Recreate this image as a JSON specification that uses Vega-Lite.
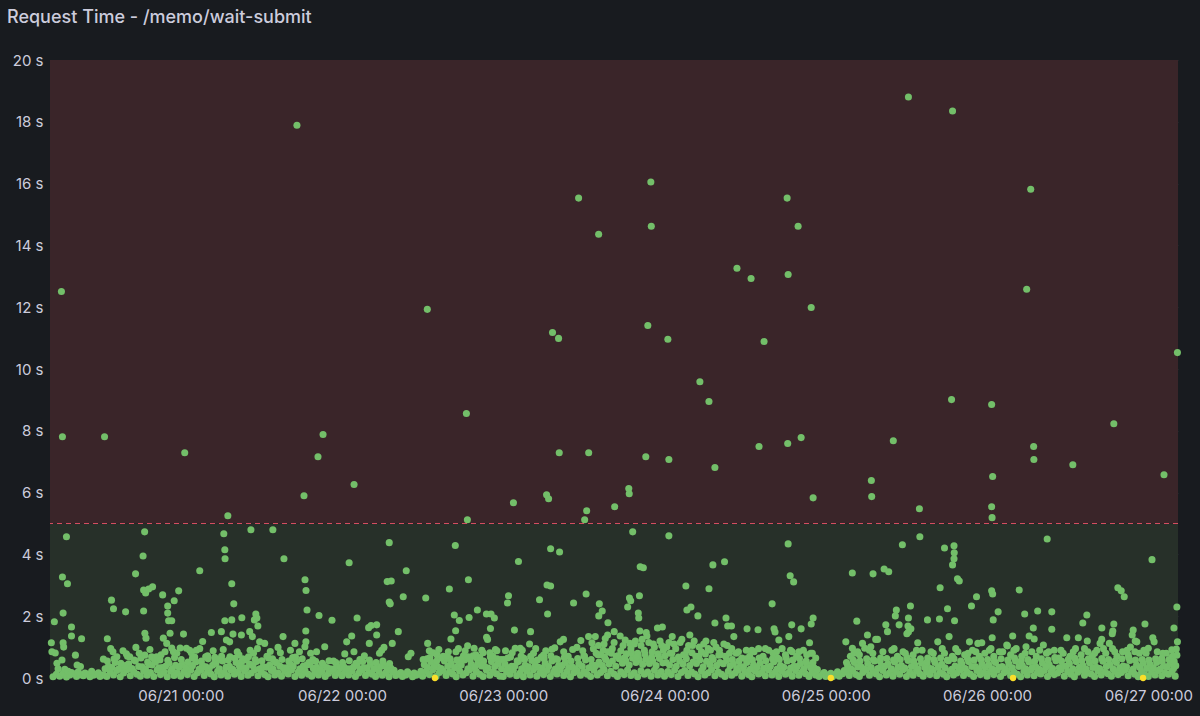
{
"$schema": "https://vega.github.io/schema/vega-lite/v6.json",
"width": 1128, "height": 618,
"autosize": {"type": "none"},
"padding": {"left": 50, "top": 60, "right": 22, "bottom": 38},
"background": "#181b1f",
"title": {"text": "Request Time - /memo/wait-submit", "anchor": "start", "frame": "group", "dx": -43, "offset": 12, "baseline": "alphabetic", "font": "Inter", "fontSize": 18, "fontWeight": 500, "color": "#ccccdc"},
"config": {"view": {"stroke": null},
 "axis": {"grid": true, "gridColor": "#ccccdc", "gridOpacity": 0.1, "domain": false, "ticks": false, "labelFont": "Inter", "labelFontSize": 15, "labelColor": "#ccccdc", "title": null, "zindex": 1}},
"layer": [
 {"data": {"values": [{"lo": 0, "hi": 5, "zone": "ok"}, {"lo": 5, "hi": 20, "zone": "alert"}]},
  "mark": {"type": "rect"},
  "encoding": {"y": {"field": "lo", "type": "quantitative", "scale": {"domain": [0, 20]}, "axis": {"values": [0,2,4,6,8,10,12,14,16,18,20], "labelExpr": "datum.value + ' s'", "labelPadding": 7}},
   "y2": {"field": "hi"},
   "color": {"field": "zone", "type": "nominal", "scale": {"domain": ["ok", "alert"], "range": ["#273029", "#3a2529"]}, "legend": null}}},
 {"data": {"values": [{"v": 5}]},
  "mark": {"type": "rule", "color": "#d44d60", "strokeWidth": 1, "strokeDash": [5, 4], "opacity": 1},
  "encoding": {"y": {"field": "v", "type": "quantitative"}}},
 {"data": {"format": {"parse": {"t": "utc:'%m/%d %H:%M'"}}, "values": [
{"t":"06/20 05:00","v":0.04},{"t":"06/20 05:30","v":0.12},{"t":"06/20 06:00","v":0.06},{"t":"06/20 06:30","v":0.15},{"t":"06/20 07:00","v":0.03},{"t":"06/20 07:30","v":0.1},{"t":"06/20 08:00","v":0.14},{"t":"06/20 08:30","v":0.05},{"t":"06/20 09:00","v":0.11},{"t":"06/20 09:30","v":0.07},{"t":"06/20 10:00","v":0.13},{"t":"06/20 10:30","v":0.04},{"t":"06/20 11:00","v":0.09},{"t":"06/20 11:30","v":0.12},{"t":"06/20 12:00","v":0.05},{"t":"06/20 12:30","v":0.1},{"t":"06/20 13:00","v":0.05},{"t":"06/20 13:30","v":0.2},{"t":"06/20 14:00","v":0.1},{"t":"06/20 14:30","v":0.24},{"t":"06/20 15:00","v":0.04},{"t":"06/20 15:30","v":0.16},{"t":"06/20 16:00","v":0.27},{"t":"06/20 16:30","v":0.07},{"t":"06/20 17:00","v":0.21},{"t":"06/20 17:30","v":0.12},{"t":"06/20 18:00","v":0.06},{"t":"06/20 18:30","v":0.23},{"t":"06/20 19:00","v":0.09},{"t":"06/20 19:30","v":0.18},{"t":"06/20 20:00","v":0.05},{"t":"06/20 20:30","v":0.26},{"t":"06/20 21:00","v":0.11},{"t":"06/20 21:30","v":0.19},{"t":"06/20 22:00","v":0.04},{"t":"06/20 22:30","v":0.22},{"t":"06/20 23:00","v":0.08},{"t":"06/20 23:30","v":0.17},
{"t":"06/20 05:45","v":0.3},{"t":"06/20 06:45","v":0.28},{"t":"06/20 07:15","v":0.22},{"t":"06/20 13:15","v":0.38},{"t":"06/20 14:15","v":0.5},{"t":"06/20 15:15","v":0.33},{"t":"06/20 16:15","v":0.46},{"t":"06/20 17:15","v":0.55},{"t":"06/20 18:15","v":0.36},{"t":"06/20 19:15","v":0.44},{"t":"06/20 20:15","v":0.52},{"t":"06/20 21:15","v":0.34},{"t":"06/20 22:15","v":0.48},{"t":"06/20 23:15","v":0.41},
{"t":"06/20 07:45","v":0.18},{"t":"06/20 08:45","v":0.2},{"t":"06/20 09:45","v":0.16},{"t":"06/20 10:45","v":0.22},{"t":"06/20 11:45","v":0.17},{"t":"06/20 12:45","v":0.3},{"t":"06/20 13:45","v":0.34},{"t":"06/20 14:45","v":0.29},{"t":"06/20 15:45","v":0.4},{"t":"06/20 16:45","v":0.31},{"t":"06/20 17:45","v":0.37},{"t":"06/20 18:45","v":0.28},{"t":"06/20 19:45","v":0.42},{"t":"06/20 20:45","v":0.33},{"t":"06/20 21:45","v":0.38},{"t":"06/20 22:45","v":0.3},{"t":"06/20 23:45","v":0.36},
{"t":"06/20 13:05","v":0.55},{"t":"06/20 14:05","v":0.62},{"t":"06/20 15:05","v":0.48},{"t":"06/20 16:05","v":0.7},{"t":"06/20 17:05","v":0.58},{"t":"06/20 18:05","v":0.65},{"t":"06/20 19:05","v":0.52},{"t":"06/20 20:05","v":0.6},{"t":"06/20 21:05","v":0.75},{"t":"06/20 22:05","v":0.57},{"t":"06/20 23:05","v":0.66},
{"t":"06/20 13:35","v":0.95},{"t":"06/20 15:25","v":0.88},{"t":"06/20 17:50","v":0.8},{"t":"06/20 19:25","v":0.92},{"t":"06/20 21:40","v":0.85},{"t":"06/20 23:25","v":0.8},
{"t":"06/20 04:45","v":1.14},{"t":"06/20 04:50","v":0.85},{"t":"06/20 05:20","v":0.81},{"t":"06/20 06:30","v":1.14},{"t":"06/20 06:35","v":1.0},{"t":"06/20 06:20","v":0.58},{"t":"06/20 05:35","v":0.48},{"t":"06/20 07:45","v":1.36},{"t":"06/20 07:45","v":1.65},{"t":"06/20 09:15","v":1.27},{"t":"06/20 08:20","v":0.74},{"t":"06/20 08:35","v":0.42},{"t":"06/20 09:05","v":0.37},{"t":"06/20 13:05","v":1.27},{"t":"06/20 12:30","v":0.61},{"t":"06/20 13:55","v":0.85},{"t":"06/20 14:30","v":0.69},{"t":"06/20 15:55","v":0.78},{"t":"06/20 16:25","v":0.69},{"t":"06/20 17:20","v":0.99},{"t":"06/20 18:40","v":1.45},{"t":"06/20 18:50","v":1.29},{"t":"06/20 18:40","v":0.74},{"t":"06/20 19:40","v":0.69},{"t":"06/20 20:25","v":0.69},{"t":"06/20 20:55","v":0.58},{"t":"06/20 21:25","v":1.29},{"t":"06/20 22:25","v":1.45},{"t":"06/20 21:55","v":1.12},{"t":"06/20 22:40","v":0.97},{"t":"06/20 22:55","v":0.85},{"t":"06/20 23:55","v":0.97},
{"t":"06/20 05:12","v":1.82},{"t":"06/20 06:24","v":3.27},{"t":"06/20 06:30","v":2.1},{"t":"06/20 07:00","v":4.57},{"t":"06/20 07:09","v":3.05},{"t":"06/20 13:42","v":2.52},{"t":"06/20 14:00","v":2.24},{"t":"06/20 15:48","v":2.14},{"t":"06/20 17:17","v":3.37},{"t":"06/20 18:24","v":3.95},{"t":"06/20 18:38","v":4.73},{"t":"06/20 18:29","v":2.85},{"t":"06/20 18:29","v":2.17},{"t":"06/20 18:47","v":2.75},{"t":"06/20 19:14","v":2.88},{"t":"06/20 19:49","v":2.95},{"t":"06/20 21:19","v":2.69},{"t":"06/20 22:04","v":2.33},{"t":"06/20 22:04","v":2.1},{"t":"06/20 22:12","v":1.85},{"t":"06/20 22:40","v":1.85},{"t":"06/20 23:02","v":2.5},{"t":"06/20 23:42","v":2.82},
{"t":"06/20 06:15","v":12.51},{"t":"06/20 06:24","v":7.81},{"t":"06/20 12:40","v":7.81},
{"t":"06/21 00:00","v":0.06},{"t":"06/21 00:30","v":0.21},{"t":"06/21 01:00","v":0.11},{"t":"06/21 01:30","v":0.25},{"t":"06/21 02:00","v":0.05},{"t":"06/21 02:30","v":0.17},{"t":"06/21 03:00","v":0.26},{"t":"06/21 03:30","v":0.08},{"t":"06/21 04:00","v":0.2},{"t":"06/21 04:30","v":0.13},{"t":"06/21 05:00","v":0.04},{"t":"06/21 05:30","v":0.22},{"t":"06/21 06:00","v":0.1},{"t":"06/21 06:30","v":0.18},{"t":"06/21 07:00","v":0.06},{"t":"06/21 07:30","v":0.25},{"t":"06/21 08:00","v":0.12},{"t":"06/21 08:30","v":0.19},{"t":"06/21 09:00","v":0.05},{"t":"06/21 09:30","v":0.23},{"t":"06/21 10:00","v":0.09},{"t":"06/21 10:30","v":0.16},{"t":"06/21 11:00","v":0.27},{"t":"06/21 11:30","v":0.07},{"t":"06/21 12:00","v":0.2},{"t":"06/21 12:30","v":0.11},{"t":"06/21 13:00","v":0.04},{"t":"06/21 13:30","v":0.24},{"t":"06/21 14:00","v":0.1},{"t":"06/21 14:30","v":0.17},{"t":"06/21 15:00","v":0.06},{"t":"06/21 15:30","v":0.22},{"t":"06/21 16:00","v":0.13},{"t":"06/21 16:30","v":0.26},{"t":"06/21 17:00","v":0.05},{"t":"06/21 17:30","v":0.19},{"t":"06/21 18:00","v":0.09},{"t":"06/21 18:30","v":0.23},{"t":"06/21 19:00","v":0.12},{"t":"06/21 19:30","v":0.06},{"t":"06/21 20:00","v":0.18},{"t":"06/21 20:30","v":0.1},{"t":"06/21 21:00","v":0.21},{"t":"06/21 21:30","v":0.05},{"t":"06/21 22:00","v":0.15},{"t":"06/21 22:30","v":0.24},{"t":"06/21 23:00","v":0.08},{"t":"06/21 23:30","v":0.17},
{"t":"06/21 00:15","v":0.44},{"t":"06/21 01:15","v":0.36},{"t":"06/21 02:15","v":0.52},{"t":"06/21 03:15","v":0.4},{"t":"06/21 04:15","v":0.31},{"t":"06/21 05:15","v":0.47},{"t":"06/21 06:15","v":0.55},{"t":"06/21 07:15","v":0.38},{"t":"06/21 08:15","v":0.5},{"t":"06/21 09:15","v":0.34},{"t":"06/21 10:15","v":0.45},{"t":"06/21 11:15","v":0.53},{"t":"06/21 12:15","v":0.37},{"t":"06/21 13:15","v":0.42},{"t":"06/21 14:15","v":0.49},{"t":"06/21 15:15","v":0.33},{"t":"06/21 16:15","v":0.46},{"t":"06/21 17:15","v":0.54},{"t":"06/21 18:15","v":0.39},{"t":"06/21 19:15","v":0.44},{"t":"06/21 20:15","v":0.35},{"t":"06/21 21:15","v":0.41},{"t":"06/21 22:15","v":0.3},{"t":"06/21 23:15","v":0.38},
{"t":"06/21 00:45","v":0.32},{"t":"06/21 01:45","v":0.4},{"t":"06/21 02:45","v":0.29},{"t":"06/21 03:45","v":0.36},{"t":"06/21 04:45","v":0.41},{"t":"06/21 05:45","v":0.3},{"t":"06/21 06:45","v":0.35},{"t":"06/21 07:45","v":0.28},{"t":"06/21 08:45","v":0.38},{"t":"06/21 09:45","v":0.32},{"t":"06/21 10:45","v":0.4},{"t":"06/21 11:45","v":0.3},{"t":"06/21 12:45","v":0.35},{"t":"06/21 13:45","v":0.29},{"t":"06/21 14:45","v":0.39},{"t":"06/21 15:45","v":0.33},{"t":"06/21 16:45","v":0.37},{"t":"06/21 17:45","v":0.3},{"t":"06/21 18:45","v":0.42},{"t":"06/21 19:45","v":0.31},{"t":"06/21 20:45","v":0.27},{"t":"06/21 21:45","v":0.34},{"t":"06/21 22:45","v":0.29},{"t":"06/21 23:45","v":0.33},
{"t":"06/21 00:05","v":0.6},{"t":"06/21 01:05","v":0.52},{"t":"06/21 02:05","v":0.68},{"t":"06/21 03:05","v":0.55},{"t":"06/21 04:05","v":0.62},{"t":"06/21 05:05","v":0.5},{"t":"06/21 06:05","v":0.7},{"t":"06/21 07:05","v":0.58},{"t":"06/21 08:05","v":0.64},{"t":"06/21 09:05","v":0.53},{"t":"06/21 10:05","v":0.69},{"t":"06/21 11:05","v":0.6},{"t":"06/21 12:05","v":0.56},{"t":"06/21 13:05","v":0.65},{"t":"06/21 14:05","v":0.52},{"t":"06/21 15:05","v":0.6},{"t":"06/21 16:05","v":0.55},{"t":"06/21 17:05","v":0.68},{"t":"06/21 18:05","v":0.62},{"t":"06/21 19:05","v":0.5},{"t":"06/21 20:05","v":0.54},{"t":"06/21 21:05","v":0.48},{"t":"06/21 22:05","v":0.56},{"t":"06/21 23:05","v":0.5},
{"t":"06/21 01:35","v":0.82},{"t":"06/21 02:50","v":0.95},{"t":"06/21 04:50","v":0.88},{"t":"06/21 06:20","v":0.92},{"t":"06/21 08:25","v":0.85},{"t":"06/21 10:50","v":0.8},{"t":"06/21 11:25","v":0.95},{"t":"06/21 13:20","v":0.86},{"t":"06/21 14:50","v":0.82},{"t":"06/21 16:20","v":0.9},{"t":"06/21 17:40","v":0.85},{"t":"06/21 19:20","v":0.8},
{"t":"06/21 00:25","v":1.42},{"t":"06/21 00:51","v":0.96},{"t":"06/21 01:20","v":0.9},{"t":"06/21 02:20","v":0.9},{"t":"06/21 03:16","v":1.18},{"t":"06/21 04:34","v":1.47},{"t":"06/21 06:03","v":1.5},{"t":"06/21 06:48","v":1.23},{"t":"06/21 07:17","v":1.17},{"t":"06/21 07:47","v":1.42},{"t":"06/21 09:02","v":1.39},{"t":"06/21 10:16","v":1.5},{"t":"06/21 10:40","v":1.34},{"t":"06/21 10:20","v":0.9},{"t":"06/21 11:45","v":1.17},{"t":"06/21 12:30","v":1.12},{"t":"06/21 14:29","v":0.99},{"t":"06/21 15:14","v":1.34},{"t":"06/21 17:00","v":1.12},{"t":"06/21 18:38","v":1.17},{"t":"06/21 18:29","v":1.01},{"t":"06/21 20:13","v":0.85},{"t":"06/21 21:26","v":1.01},{"t":"06/21 03:43","v":0.69},{"t":"06/21 05:04","v":0.67},{"t":"06/21 07:20","v":0.69},{"t":"06/21 09:14","v":0.62},{"t":"06/21 01:45","v":0.65},{"t":"06/21 04:00","v":0.72},{"t":"06/21 05:45","v":0.6},{"t":"06/21 08:40","v":0.75},{"t":"06/21 09:45","v":0.58},{"t":"06/21 12:50","v":0.7},{"t":"06/21 13:40","v":0.62},{"t":"06/21 16:40","v":0.66},{"t":"06/21 19:40","v":0.6},{"t":"06/21 22:45","v":0.55},
{"t":"06/21 02:50","v":3.47},{"t":"06/21 06:25","v":4.67},{"t":"06/21 06:34","v":4.15},{"t":"06/21 06:36","v":3.86},{"t":"06/21 06:34","v":1.85},{"t":"06/21 07:36","v":3.05},{"t":"06/21 07:36","v":1.88},{"t":"06/21 07:54","v":2.4},{"t":"06/21 09:06","v":1.95},{"t":"06/21 10:27","v":4.8},{"t":"06/21 10:58","v":1.88},{"t":"06/21 11:11","v":2.07},{"t":"06/21 11:20","v":1.94},{"t":"06/21 11:29","v":1.68},{"t":"06/21 13:43","v":4.8},{"t":"06/21 15:22","v":3.86},{"t":"06/21 18:30","v":3.18},{"t":"06/21 18:39","v":2.83},{"t":"06/21 18:48","v":2.2},{"t":"06/21 18:37","v":1.52},{"t":"06/21 20:35","v":2.02},{"t":"06/21 22:31","v":1.87},
{"t":"06/21 00:36","v":7.29},{"t":"06/21 07:01","v":5.25},{"t":"06/21 17:18","v":17.89},{"t":"06/21 18:21","v":5.9},{"t":"06/21 20:26","v":7.16},{"t":"06/21 21:11","v":7.88},
{"t":"06/22 00:00","v":0.07},{"t":"06/22 00:30","v":0.19},{"t":"06/22 01:00","v":0.1},{"t":"06/22 01:30","v":0.23},{"t":"06/22 02:00","v":0.05},{"t":"06/22 02:30","v":0.16},{"t":"06/22 03:00","v":0.25},{"t":"06/22 03:30","v":0.08},{"t":"06/22 04:00","v":0.18},{"t":"06/22 04:30","v":0.12},{"t":"06/22 05:00","v":0.05},{"t":"06/22 05:30","v":0.21},{"t":"06/22 06:00","v":0.09},{"t":"06/22 06:30","v":0.17},{"t":"06/22 07:00","v":0.04},{"t":"06/22 07:30","v":0.2},{"t":"06/22 08:00","v":0.08},{"t":"06/22 08:30","v":0.13},{"t":"06/22 09:00","v":0.05},{"t":"06/22 09:30","v":0.1},{"t":"06/22 10:00","v":0.14},{"t":"06/22 10:30","v":0.04},{"t":"06/22 11:00","v":0.09},{"t":"06/22 11:30","v":0.12},{"t":"06/22 12:00","v":0.06},{"t":"06/22 12:30","v":0.22},{"t":"06/22 13:00","v":0.11},{"t":"06/22 13:30","v":0.26},{"t":"06/22 14:00","v":0.05},{"t":"06/22 14:30","v":0.18},{"t":"06/22 15:00","v":0.24},{"t":"06/22 15:30","v":0.08},{"t":"06/22 16:00","v":0.2},{"t":"06/22 16:30","v":0.13},{"t":"06/22 17:00","v":0.04},{"t":"06/22 17:30","v":0.23},{"t":"06/22 18:00","v":0.1},{"t":"06/22 18:30","v":0.17},{"t":"06/22 19:00","v":0.27},{"t":"06/22 19:30","v":0.06},{"t":"06/22 20:00","v":0.21},{"t":"06/22 20:30","v":0.12},{"t":"06/22 21:00","v":0.05},{"t":"06/22 21:30","v":0.25},{"t":"06/22 22:00","v":0.09},{"t":"06/22 22:30","v":0.19},{"t":"06/22 23:00","v":0.14},{"t":"06/22 23:30","v":0.06},
{"t":"06/22 00:15","v":0.37},{"t":"06/22 01:15","v":0.3},{"t":"06/22 02:15","v":0.42},{"t":"06/22 03:15","v":0.33},{"t":"06/22 04:15","v":0.45},{"t":"06/22 05:15","v":0.35},{"t":"06/22 06:15","v":0.4},{"t":"06/22 07:15","v":0.32},{"t":"06/22 12:15","v":0.43},{"t":"06/22 13:15","v":0.52},{"t":"06/22 14:15","v":0.36},{"t":"06/22 15:15","v":0.55},{"t":"06/22 16:15","v":0.47},{"t":"06/22 17:15","v":0.39},{"t":"06/22 18:15","v":0.58},{"t":"06/22 19:15","v":0.44},{"t":"06/22 20:15","v":0.5},{"t":"06/22 21:15","v":0.37},{"t":"06/22 22:15","v":0.53},{"t":"06/22 23:15","v":0.46},
{"t":"06/22 00:45","v":0.3},{"t":"06/22 01:45","v":0.36},{"t":"06/22 02:45","v":0.28},{"t":"06/22 03:45","v":0.33},{"t":"06/22 04:45","v":0.3},{"t":"06/22 05:45","v":0.37},{"t":"06/22 06:45","v":0.29},{"t":"06/22 07:45","v":0.25},{"t":"06/22 08:45","v":0.18},{"t":"06/22 09:45","v":0.2},{"t":"06/22 10:45","v":0.16},{"t":"06/22 11:45","v":0.22},{"t":"06/22 12:45","v":0.34},{"t":"06/22 13:45","v":0.4},{"t":"06/22 14:45","v":0.31},{"t":"06/22 15:45","v":0.38},{"t":"06/22 16:45","v":0.33},{"t":"06/22 17:45","v":0.42},{"t":"06/22 18:45","v":0.3},{"t":"06/22 19:45","v":0.36},{"t":"06/22 20:45","v":0.39},{"t":"06/22 21:45","v":0.32},{"t":"06/22 22:45","v":0.37},{"t":"06/22 23:45","v":0.3},
{"t":"06/22 00:05","v":0.5},{"t":"06/22 01:05","v":0.56},{"t":"06/22 02:05","v":0.48},{"t":"06/22 03:05","v":0.53},{"t":"06/22 04:05","v":0.58},{"t":"06/22 05:05","v":0.5},{"t":"06/22 06:05","v":0.55},{"t":"06/22 07:05","v":0.47},{"t":"06/22 12:05","v":0.6},{"t":"06/22 13:05","v":0.66},{"t":"06/22 14:05","v":0.55},{"t":"06/22 15:05","v":0.7},{"t":"06/22 16:05","v":0.62},{"t":"06/22 17:05","v":0.58},{"t":"06/22 18:05","v":0.72},{"t":"06/22 19:05","v":0.6},{"t":"06/22 20:05","v":0.65},{"t":"06/22 21:05","v":0.55},{"t":"06/22 22:05","v":0.68},{"t":"06/22 23:05","v":0.62},
{"t":"06/22 00:25","v":0.78},{"t":"06/22 03:20","v":0.72},{"t":"06/22 05:35","v":0.8},{"t":"06/22 13:00","v":0.88},{"t":"06/22 14:25","v":0.92},{"t":"06/22 15:50","v":0.85},{"t":"06/22 17:20","v":0.95},{"t":"06/22 18:20","v":0.88},{"t":"06/22 19:40","v":0.96},{"t":"06/22 21:00","v":0.82},{"t":"06/22 22:50","v":0.92},
{"t":"06/22 00:42","v":1.17},{"t":"06/22 01:27","v":1.36},{"t":"06/22 01:47","v":0.85},{"t":"06/22 05:10","v":1.39},{"t":"06/22 04:04","v":1.12},{"t":"06/22 05:55","v":0.9},{"t":"06/22 06:15","v":0.99},{"t":"06/22 07:29","v":1.12},{"t":"06/22 08:23","v":1.5},{"t":"06/22 09:52","v":0.69},{"t":"06/22 10:16","v":0.8},{"t":"06/22 12:45","v":1.12},{"t":"06/22 13:35","v":0.82},{"t":"06/22 14:11","v":0.74},{"t":"06/22 16:13","v":1.26},{"t":"06/22 16:55","v":1.53},{"t":"06/22 16:58","v":0.85},{"t":"06/22 18:42","v":1.04},{"t":"06/22 18:47","v":0.69},{"t":"06/22 19:56","v":0.75},{"t":"06/22 20:49","v":0.9},{"t":"06/22 21:31","v":1.32},{"t":"06/22 22:00","v":0.82},{"t":"06/22 23:03","v":0.88},{"t":"06/22 22:27","v":0.7},{"t":"06/22 02:40","v":0.6},{"t":"06/22 12:40","v":0.62},{"t":"06/22 14:50","v":0.65},{"t":"06/22 15:40","v":0.7},{"t":"06/22 17:40","v":0.6},{"t":"06/22 19:30","v":0.72},{"t":"06/22 20:30","v":0.66},{"t":"06/22 23:40","v":0.6},
{"t":"06/22 01:04","v":3.73},{"t":"06/22 02:15","v":1.94},{"t":"06/22 03:58","v":1.63},{"t":"06/22 04:20","v":1.7},{"t":"06/22 05:10","v":1.72},{"t":"06/22 06:44","v":3.12},{"t":"06/22 07:02","v":4.38},{"t":"06/22 07:20","v":3.14},{"t":"06/22 07:02","v":2.46},{"t":"06/22 07:11","v":2.4},{"t":"06/22 09:07","v":2.63},{"t":"06/22 09:34","v":3.47},{"t":"06/22 12:28","v":2.59},{"t":"06/22 15:59","v":2.88},{"t":"06/22 16:43","v":2.04},{"t":"06/22 16:52","v":4.29},{"t":"06/22 17:28","v":1.86},{"t":"06/22 18:49","v":3.18},{"t":"06/22 18:55","v":1.96},{"t":"06/22 20:09","v":2.2},{"t":"06/22 21:30","v":2.07},{"t":"06/22 21:40","v":1.25},{"t":"06/22 22:06","v":1.6},{"t":"06/22 22:11","v":2.07},{"t":"06/22 22:41","v":1.94},
{"t":"06/22 01:48","v":6.26},{"t":"06/22 12:42","v":11.93},{"t":"06/22 18:31","v":8.56},{"t":"06/22 18:40","v":5.12},
{"t":"06/23 00:00","v":0.05},{"t":"06/23 00:30","v":0.2},{"t":"06/23 01:00","v":0.12},{"t":"06/23 01:30","v":0.25},{"t":"06/23 02:00","v":0.07},{"t":"06/23 02:30","v":0.16},{"t":"06/23 03:00","v":0.04},{"t":"06/23 03:30","v":0.22},{"t":"06/23 04:00","v":0.1},{"t":"06/23 04:30","v":0.27},{"t":"06/23 05:00","v":0.06},{"t":"06/23 05:30","v":0.18},{"t":"06/23 06:00","v":0.11},{"t":"06/23 06:30","v":0.24},{"t":"06/23 07:00","v":0.05},{"t":"06/23 07:30","v":0.19},{"t":"06/23 08:00","v":0.13},{"t":"06/23 08:30","v":0.26},{"t":"06/23 09:00","v":0.08},{"t":"06/23 09:30","v":0.21},{"t":"06/23 10:00","v":0.04},{"t":"06/23 10:30","v":0.17},{"t":"06/23 11:00","v":0.23},{"t":"06/23 11:30","v":0.09},{"t":"06/23 12:00","v":0.2},{"t":"06/23 12:30","v":0.12},{"t":"06/23 13:00","v":0.05},{"t":"06/23 13:30","v":0.25},{"t":"06/23 14:00","v":0.1},{"t":"06/23 14:30","v":0.18},{"t":"06/23 15:00","v":0.27},{"t":"06/23 15:30","v":0.07},{"t":"06/23 16:00","v":0.22},{"t":"06/23 16:30","v":0.13},{"t":"06/23 17:00","v":0.05},{"t":"06/23 17:30","v":0.2},{"t":"06/23 18:00","v":0.11},{"t":"06/23 18:30","v":0.26},{"t":"06/23 19:00","v":0.08},{"t":"06/23 19:30","v":0.17},{"t":"06/23 20:00","v":0.04},{"t":"06/23 20:30","v":0.23},{"t":"06/23 21:00","v":0.12},{"t":"06/23 21:30","v":0.19},{"t":"06/23 22:00","v":0.06},{"t":"06/23 22:30","v":0.25},{"t":"06/23 23:00","v":0.1},{"t":"06/23 23:30","v":0.21},
{"t":"06/23 00:15","v":0.45},{"t":"06/23 01:15","v":0.38},{"t":"06/23 02:15","v":0.53},{"t":"06/23 03:15","v":0.41},{"t":"06/23 04:15","v":0.57},{"t":"06/23 05:15","v":0.35},{"t":"06/23 06:15","v":0.48},{"t":"06/23 07:15","v":0.55},{"t":"06/23 08:15","v":0.4},{"t":"06/23 09:15","v":0.5},{"t":"06/23 10:15","v":0.36},{"t":"06/23 11:15","v":0.46},{"t":"06/23 12:15","v":0.58},{"t":"06/23 13:15","v":0.43},{"t":"06/23 14:15","v":0.52},{"t":"06/23 14:45","v":0.4},{"t":"06/23 15:15","v":0.6},{"t":"06/23 15:45","v":0.45},{"t":"06/23 16:15","v":0.55},{"t":"06/23 16:45","v":0.38},{"t":"06/23 17:15","v":0.62},{"t":"06/23 17:45","v":0.48},{"t":"06/23 18:15","v":0.56},{"t":"06/23 18:45","v":0.42},{"t":"06/23 19:15","v":0.64},{"t":"06/23 19:45","v":0.5},{"t":"06/23 20:15","v":0.58},{"t":"06/23 20:45","v":0.44},{"t":"06/23 21:15","v":0.61},{"t":"06/23 21:45","v":0.47},{"t":"06/23 22:15","v":0.55},{"t":"06/23 22:45","v":0.4},{"t":"06/23 23:15","v":0.63},{"t":"06/23 23:45","v":0.49},
{"t":"06/23 00:45","v":0.33},{"t":"06/23 01:45","v":0.39},{"t":"06/23 02:45","v":0.3},{"t":"06/23 03:45","v":0.36},{"t":"06/23 04:45","v":0.41},{"t":"06/23 05:45","v":0.32},{"t":"06/23 06:45","v":0.37},{"t":"06/23 07:45","v":0.29},{"t":"06/23 08:45","v":0.4},{"t":"06/23 09:45","v":0.34},{"t":"06/23 10:45","v":0.3},{"t":"06/23 11:45","v":0.38},{"t":"06/23 12:45","v":0.33},{"t":"06/23 13:45","v":0.4},
{"t":"06/23 00:05","v":0.6},{"t":"06/23 01:05","v":0.68},{"t":"06/23 02:05","v":0.56},{"t":"06/23 03:05","v":0.64},{"t":"06/23 04:05","v":0.7},{"t":"06/23 05:05","v":0.58},{"t":"06/23 06:05","v":0.62},{"t":"06/23 07:05","v":0.72},{"t":"06/23 08:05","v":0.6},{"t":"06/23 09:05","v":0.66},{"t":"06/23 10:05","v":0.55},{"t":"06/23 11:05","v":0.63},{"t":"06/23 12:05","v":0.7},{"t":"06/23 13:05","v":0.6},{"t":"06/23 14:05","v":0.75},{"t":"06/23 15:05","v":0.68},{"t":"06/23 16:05","v":0.8},{"t":"06/23 17:05","v":0.72},{"t":"06/23 18:05","v":0.66},{"t":"06/23 19:05","v":0.82},{"t":"06/23 20:05","v":0.7},{"t":"06/23 21:05","v":0.78},{"t":"06/23 22:05","v":0.68},{"t":"06/23 23:05","v":0.75},
{"t":"06/23 00:20","v":0.88},{"t":"06/23 01:20","v":0.82},{"t":"06/23 02:50","v":0.9},{"t":"06/23 04:50","v":0.95},{"t":"06/23 06:20","v":0.88},{"t":"06/23 07:40","v":0.98},{"t":"06/23 09:00","v":0.85},{"t":"06/23 10:20","v":0.92},{"t":"06/23 11:50","v":0.88},{"t":"06/23 13:25","v":0.95},{"t":"06/23 14:10","v":1.05},{"t":"06/23 15:00","v":1.1},{"t":"06/23 16:30","v":1.15},{"t":"06/23 17:50","v":1.05},{"t":"06/23 18:50","v":1.12},{"t":"06/23 19:40","v":1.2},{"t":"06/23 20:40","v":1.25},{"t":"06/23 22:20","v":1.1},{"t":"06/23 23:35","v":1.05},
{"t":"06/23 01:47","v":0.96},{"t":"06/23 02:32","v":0.96},{"t":"06/23 02:40","v":0.71},{"t":"06/23 03:55","v":1.1},{"t":"06/23 04:30","v":0.8},{"t":"06/23 06:00","v":0.74},{"t":"06/23 07:15","v":0.93},{"t":"06/23 08:29","v":1.17},{"t":"06/23 08:58","v":1.25},{"t":"06/23 10:58","v":0.99},{"t":"06/23 11:33","v":1.21},{"t":"06/23 12:42","v":1.34},{"t":"06/23 13:42","v":1.34},{"t":"06/23 13:12","v":1.14},{"t":"06/23 15:11","v":1.28},{"t":"06/23 15:32","v":1.39},{"t":"06/23 15:35","v":1.79},{"t":"06/23 16:31","v":1.5},{"t":"06/23 17:24","v":1.36},{"t":"06/23 18:09","v":1.23},{"t":"06/23 14:53","v":0.9},{"t":"06/23 15:38","v":0.85},{"t":"06/23 16:14","v":0.95},{"t":"06/23 17:30","v":0.88},{"t":"06/23 21:17","v":1.47},{"t":"06/23 21:23","v":1.36},{"t":"06/23 19:00","v":0.95},{"t":"06/23 19:30","v":1.1},{"t":"06/23 20:00","v":0.8},{"t":"06/23 20:30","v":1.05},{"t":"06/23 21:00","v":0.9},{"t":"06/23 21:40","v":1.15},{"t":"06/23 22:10","v":0.85},{"t":"06/23 22:30","v":1.0},{"t":"06/23 23:00","v":0.78},{"t":"06/23 23:20","v":1.2},{"t":"06/23 23:50","v":0.9},{"t":"06/23 00:40","v":0.65},{"t":"06/23 03:10","v":0.6},{"t":"06/23 05:40","v":0.68},{"t":"06/23 07:50","v":0.62},{"t":"06/23 09:40","v":0.7},{"t":"06/23 12:00","v":0.72},{"t":"06/23 13:50","v":0.8},{"t":"06/23 14:30","v":0.75},{"t":"06/23 16:50","v":0.7},{"t":"06/23 18:20","v":0.78},{"t":"06/23 19:50","v":0.68},
{"t":"06/23 00:38","v":2.43},{"t":"06/23 00:47","v":2.66},{"t":"06/23 01:40","v":1.55},{"t":"06/23 02:16","v":3.77},{"t":"06/23 04:04","v":1.5},{"t":"06/23 05:24","v":2.53},{"t":"06/23 06:31","v":3.01},{"t":"06/23 06:36","v":2.07},{"t":"06/23 07:03","v":2.98},{"t":"06/23 07:03","v":4.18},{"t":"06/23 08:23","v":4.08},{"t":"06/23 10:28","v":2.43},{"t":"06/23 12:20","v":2.72},{"t":"06/23 14:13","v":2.01},{"t":"06/23 14:18","v":2.4},{"t":"06/23 14:44","v":2.17},{"t":"06/23 18:31","v":2.3},{"t":"06/23 18:47","v":2.59},{"t":"06/23 18:58","v":2.5},{"t":"06/23 19:16","v":4.73},{"t":"06/23 20:06","v":2.1},{"t":"06/23 20:10","v":1.94},{"t":"06/23 20:16","v":2.66},{"t":"06/23 20:20","v":1.52},{"t":"06/23 20:23","v":3.6},{"t":"06/23 20:51","v":3.57},{"t":"06/23 22:57","v":1.62},{"t":"06/23 23:41","v":1.65},
{"t":"06/23 01:31","v":5.67},{"t":"06/23 06:27","v":5.93},{"t":"06/23 06:45","v":5.8},{"t":"06/23 07:20","v":11.18},{"t":"06/23 08:14","v":10.99},{"t":"06/23 08:20","v":7.29},{"t":"06/23 11:13","v":15.53},{"t":"06/23 12:43","v":7.29},{"t":"06/23 12:25","v":5.41},{"t":"06/23 12:07","v":5.12},{"t":"06/23 14:12","v":14.36},{"t":"06/23 16:35","v":5.54},{"t":"06/23 18:41","v":6.13},{"t":"06/23 18:45","v":5.96},{"t":"06/23 21:13","v":7.16},{"t":"06/23 21:31","v":11.41},{"t":"06/23 21:58","v":16.05},{"t":"06/23 22:02","v":14.62},
{"t":"06/24 00:00","v":0.06},{"t":"06/24 00:30","v":0.21},{"t":"06/24 01:00","v":0.11},{"t":"06/24 01:30","v":0.26},{"t":"06/24 02:00","v":0.05},{"t":"06/24 02:30","v":0.18},{"t":"06/24 03:00","v":0.24},{"t":"06/24 03:30","v":0.08},{"t":"06/24 04:00","v":0.2},{"t":"06/24 04:30","v":0.13},{"t":"06/24 05:00","v":0.04},{"t":"06/24 05:30","v":0.23},{"t":"06/24 06:00","v":0.1},{"t":"06/24 06:30","v":0.17},{"t":"06/24 07:00","v":0.27},{"t":"06/24 07:30","v":0.07},{"t":"06/24 08:00","v":0.19},{"t":"06/24 08:30","v":0.12},{"t":"06/24 09:00","v":0.05},{"t":"06/24 09:30","v":0.22},{"t":"06/24 10:00","v":0.09},{"t":"06/24 10:30","v":0.16},{"t":"06/24 11:00","v":0.25},{"t":"06/24 11:30","v":0.06},{"t":"06/24 12:00","v":0.2},{"t":"06/24 12:30","v":0.11},{"t":"06/24 13:00","v":0.04},{"t":"06/24 13:30","v":0.23},{"t":"06/24 14:00","v":0.13},{"t":"06/24 14:30","v":0.18},{"t":"06/24 15:00","v":0.07},{"t":"06/24 15:30","v":0.26},{"t":"06/24 16:00","v":0.1},{"t":"06/24 16:30","v":0.19},{"t":"06/24 17:00","v":0.05},{"t":"06/24 17:30","v":0.22},{"t":"06/24 18:00","v":0.12},{"t":"06/24 18:30","v":0.17},{"t":"06/24 19:00","v":0.06},{"t":"06/24 19:30","v":0.24},{"t":"06/24 20:00","v":0.09},{"t":"06/24 20:30","v":0.2},{"t":"06/24 21:00","v":0.14},{"t":"06/24 21:30","v":0.05},{"t":"06/24 22:00","v":0.18},{"t":"06/24 22:30","v":0.1},{"t":"06/24 23:00","v":0.05},{"t":"06/24 23:30","v":0.12},
{"t":"06/24 00:15","v":0.5},{"t":"06/24 00:45","v":0.42},{"t":"06/24 01:15","v":0.6},{"t":"06/24 01:45","v":0.38},{"t":"06/24 02:15","v":0.55},{"t":"06/24 02:45","v":0.45},{"t":"06/24 03:15","v":0.62},{"t":"06/24 03:45","v":0.4},{"t":"06/24 04:15","v":0.52},{"t":"06/24 04:45","v":0.47},{"t":"06/24 05:15","v":0.58},{"t":"06/24 05:45","v":0.36},{"t":"06/24 06:15","v":0.54},{"t":"06/24 06:45","v":0.44},{"t":"06/24 07:15","v":0.6},{"t":"06/24 07:45","v":0.4},{"t":"06/24 08:15","v":0.5},{"t":"06/24 08:45","v":0.46},{"t":"06/24 09:15","v":0.57},{"t":"06/24 09:45","v":0.39},{"t":"06/24 10:15","v":0.45},{"t":"06/24 11:15","v":0.37},{"t":"06/24 12:15","v":0.5},{"t":"06/24 13:15","v":0.42},{"t":"06/24 14:15","v":0.48},{"t":"06/24 15:15","v":0.35},{"t":"06/24 16:15","v":0.52},{"t":"06/24 17:15","v":0.4},{"t":"06/24 18:15","v":0.55},{"t":"06/24 19:15","v":0.38},{"t":"06/24 20:15","v":0.47},{"t":"06/24 21:15","v":0.43},{"t":"06/24 22:15","v":0.33},
{"t":"06/24 10:45","v":0.3},{"t":"06/24 11:45","v":0.36},{"t":"06/24 12:45","v":0.28},{"t":"06/24 13:45","v":0.34},{"t":"06/24 14:45","v":0.31},{"t":"06/24 15:45","v":0.38},{"t":"06/24 16:45","v":0.29},{"t":"06/24 17:45","v":0.35},{"t":"06/24 18:45","v":0.32},{"t":"06/24 19:45","v":0.37},{"t":"06/24 20:45","v":0.3},{"t":"06/24 21:45","v":0.33},{"t":"06/24 22:45","v":0.27},{"t":"06/24 23:45","v":0.18},
{"t":"06/24 00:05","v":0.72},{"t":"06/24 01:05","v":0.8},{"t":"06/24 02:05","v":0.68},{"t":"06/24 03:05","v":0.75},{"t":"06/24 04:05","v":0.82},{"t":"06/24 05:05","v":0.7},{"t":"06/24 06:05","v":0.78},{"t":"06/24 07:05","v":0.66},{"t":"06/24 08:05","v":0.74},{"t":"06/24 09:05","v":0.7},{"t":"06/24 10:05","v":0.6},{"t":"06/24 11:05","v":0.55},{"t":"06/24 12:05","v":0.62},{"t":"06/24 13:05","v":0.58},{"t":"06/24 14:05","v":0.65},{"t":"06/24 15:05","v":0.56},{"t":"06/24 16:05","v":0.62},{"t":"06/24 17:05","v":0.6},{"t":"06/24 18:05","v":0.66},{"t":"06/24 19:05","v":0.58},{"t":"06/24 20:05","v":0.63},{"t":"06/24 21:05","v":0.55},{"t":"06/24 22:05","v":0.5},
{"t":"06/24 00:40","v":1.15},{"t":"06/24 01:25","v":1.1},{"t":"06/24 02:35","v":1.25},{"t":"06/24 03:35","v":1.05},{"t":"06/24 04:25","v":1.2},{"t":"06/24 05:10","v":1.0},{"t":"06/24 05:50","v":1.1},{"t":"06/24 06:30","v":0.95},{"t":"06/24 07:20","v":1.15},{"t":"06/24 08:10","v":0.9},{"t":"06/24 09:20","v":1.05},{"t":"06/24 10:00","v":0.95},{"t":"06/24 11:00","v":0.85},{"t":"06/24 13:00","v":0.9},{"t":"06/24 15:00","v":0.95},{"t":"06/24 16:40","v":0.85},{"t":"06/24 18:45","v":0.9},{"t":"06/24 20:00","v":0.85},{"t":"06/24 21:45","v":0.8},
{"t":"06/24 01:09","v":1.34},{"t":"06/24 03:46","v":1.39},{"t":"06/24 10:19","v":1.34},{"t":"06/24 17:01","v":1.23},{"t":"06/24 18:30","v":1.34},{"t":"06/24 21:35","v":1.14},{"t":"06/24 00:20","v":1.0},{"t":"06/24 00:50","v":0.8},{"t":"06/24 01:40","v":0.95},{"t":"06/24 02:20","v":1.15},{"t":"06/24 02:50","v":0.75},{"t":"06/24 03:20","v":0.9},{"t":"06/24 04:10","v":1.05},{"t":"06/24 04:40","v":0.7},{"t":"06/24 05:30","v":0.85},{"t":"06/24 06:10","v":1.2},{"t":"06/24 06:50","v":0.9},{"t":"06/24 07:40","v":1.0},{"t":"06/24 08:20","v":0.75},{"t":"06/24 08:50","v":1.1},{"t":"06/24 09:40","v":0.8},{"t":"06/24 10:40","v":0.8},{"t":"06/24 11:30","v":0.65},{"t":"06/24 12:10","v":0.9},{"t":"06/24 12:40","v":0.7},{"t":"06/24 13:20","v":0.85},{"t":"06/24 14:00","v":0.95},{"t":"06/24 14:40","v":0.7},{"t":"06/24 15:30","v":0.9},{"t":"06/24 16:10","v":0.8},{"t":"06/24 16:50","v":0.65},{"t":"06/24 17:30","v":0.95},{"t":"06/24 18:00","v":0.75},{"t":"06/24 19:00","v":0.85},{"t":"06/24 19:40","v":0.7},{"t":"06/24 20:40","v":0.9},{"t":"06/24 21:10","v":0.75},{"t":"06/24 22:00","v":0.8},{"t":"06/24 22:30","v":0.65},
{"t":"06/24 00:39","v":4.6},{"t":"06/24 03:11","v":2.98},{"t":"06/24 03:20","v":2.2},{"t":"06/24 03:56","v":2.3},{"t":"06/24 04:58","v":2.01},{"t":"06/24 06:37","v":2.89},{"t":"06/24 07:12","v":3.66},{"t":"06/24 07:30","v":1.78},{"t":"06/24 08:56","v":3.76},{"t":"06/24 09:09","v":1.94},{"t":"06/24 09:24","v":1.68},{"t":"06/24 09:58","v":1.68},{"t":"06/24 12:17","v":1.59},{"t":"06/24 13:55","v":1.56},{"t":"06/24 16:01","v":2.4},{"t":"06/24 16:18","v":1.59},{"t":"06/24 16:27","v":1.49},{"t":"06/24 18:24","v":4.34},{"t":"06/24 18:42","v":3.31},{"t":"06/24 18:56","v":1.72},{"t":"06/24 19:13","v":3.11},{"t":"06/24 20:20","v":1.59},{"t":"06/24 21:50","v":1.75},{"t":"06/24 22:07","v":1.94},
{"t":"06/24 00:30","v":10.96},{"t":"06/24 00:39","v":7.07},{"t":"06/24 05:16","v":9.59},{"t":"06/24 06:37","v":8.95},{"t":"06/24 07:30","v":6.81},{"t":"06/24 10:47","v":13.26},{"t":"06/24 12:53","v":12.93},{"t":"06/24 14:49","v":10.89},{"t":"06/24 14:04","v":7.49},{"t":"06/24 18:15","v":15.53},{"t":"06/24 18:24","v":13.06},{"t":"06/24 19:53","v":14.62},{"t":"06/24 20:20","v":7.78},{"t":"06/24 18:20","v":7.59},{"t":"06/24 21:50","v":11.99},{"t":"06/24 22:07","v":5.83},
{"t":"06/25 00:00","v":0.05},{"t":"06/25 00:30","v":0.1},{"t":"06/25 01:00","v":0.04},{"t":"06/25 01:30","v":0.12},{"t":"06/25 02:00","v":0.06},{"t":"06/25 02:30","v":0.14},{"t":"06/25 03:00","v":0.2},{"t":"06/25 03:30","v":0.08},{"t":"06/25 04:00","v":0.23},{"t":"06/25 04:30","v":0.11},{"t":"06/25 05:00","v":0.05},{"t":"06/25 05:30","v":0.18},{"t":"06/25 06:00","v":0.26},{"t":"06/25 06:30","v":0.09},{"t":"06/25 07:00","v":0.21},{"t":"06/25 07:30","v":0.13},{"t":"06/25 08:00","v":0.04},{"t":"06/25 08:30","v":0.24},{"t":"06/25 09:00","v":0.1},{"t":"06/25 09:30","v":0.17},{"t":"06/25 10:00","v":0.06},{"t":"06/25 10:30","v":0.22},{"t":"06/25 11:00","v":0.12},{"t":"06/25 11:30","v":0.27},{"t":"06/25 12:00","v":0.05},{"t":"06/25 12:30","v":0.19},{"t":"06/25 13:00","v":0.09},{"t":"06/25 13:30","v":0.23},{"t":"06/25 14:00","v":0.14},{"t":"06/25 14:30","v":0.06},{"t":"06/25 15:00","v":0.2},{"t":"06/25 15:30","v":0.11},{"t":"06/25 16:00","v":0.25},{"t":"06/25 16:30","v":0.07},{"t":"06/25 17:00","v":0.18},{"t":"06/25 17:30","v":0.12},{"t":"06/25 18:00","v":0.04},{"t":"06/25 18:30","v":0.22},{"t":"06/25 19:00","v":0.1},{"t":"06/25 19:30","v":0.16},{"t":"06/25 20:00","v":0.26},{"t":"06/25 20:30","v":0.08},{"t":"06/25 21:00","v":0.2},{"t":"06/25 21:30","v":0.13},{"t":"06/25 22:00","v":0.05},{"t":"06/25 22:30","v":0.24},{"t":"06/25 23:00","v":0.11},{"t":"06/25 23:30","v":0.18},
{"t":"06/25 03:15","v":0.4},{"t":"06/25 04:15","v":0.5},{"t":"06/25 05:15","v":0.36},{"t":"06/25 06:15","v":0.47},{"t":"06/25 07:15","v":0.55},{"t":"06/25 08:15","v":0.38},{"t":"06/25 09:15","v":0.45},{"t":"06/25 10:15","v":0.52},{"t":"06/25 11:15","v":0.4},{"t":"06/25 12:15","v":0.57},{"t":"06/25 13:15","v":0.43},{"t":"06/25 14:15","v":0.48},{"t":"06/25 15:15","v":0.35},{"t":"06/25 16:15","v":0.5},{"t":"06/25 17:15","v":0.44},{"t":"06/25 18:15","v":0.56},{"t":"06/25 19:15","v":0.39},{"t":"06/25 20:15","v":0.46},{"t":"06/25 21:15","v":0.53},{"t":"06/25 22:15","v":0.37},{"t":"06/25 23:15","v":0.45},
{"t":"06/25 00:45","v":0.15},{"t":"06/25 01:45","v":0.2},{"t":"06/25 02:45","v":0.24},{"t":"06/25 03:45","v":0.3},{"t":"06/25 04:45","v":0.36},{"t":"06/25 05:45","v":0.29},{"t":"06/25 06:45","v":0.34},{"t":"06/25 07:45","v":0.31},{"t":"06/25 08:45","v":0.38},{"t":"06/25 09:45","v":0.3},{"t":"06/25 10:45","v":0.35},{"t":"06/25 11:45","v":0.32},{"t":"06/25 12:45","v":0.37},{"t":"06/25 13:45","v":0.29},{"t":"06/25 14:45","v":0.34},{"t":"06/25 15:45","v":0.3},{"t":"06/25 16:45","v":0.36},{"t":"06/25 17:45","v":0.33},{"t":"06/25 18:45","v":0.28},{"t":"06/25 19:45","v":0.35},{"t":"06/25 20:45","v":0.31},{"t":"06/25 21:45","v":0.37},{"t":"06/25 22:45","v":0.3},{"t":"06/25 23:45","v":0.34},
{"t":"06/25 03:05","v":0.5},{"t":"06/25 04:05","v":0.58},{"t":"06/25 05:05","v":0.55},{"t":"06/25 06:05","v":0.62},{"t":"06/25 07:05","v":0.6},{"t":"06/25 08:05","v":0.55},{"t":"06/25 09:05","v":0.63},{"t":"06/25 10:05","v":0.58},{"t":"06/25 11:05","v":0.6},{"t":"06/25 12:05","v":0.66},{"t":"06/25 13:05","v":0.56},{"t":"06/25 14:05","v":0.62},{"t":"06/25 15:05","v":0.52},{"t":"06/25 16:05","v":0.6},{"t":"06/25 17:05","v":0.65},{"t":"06/25 18:05","v":0.58},{"t":"06/25 19:05","v":0.62},{"t":"06/25 20:05","v":0.55},{"t":"06/25 21:05","v":0.63},{"t":"06/25 22:05","v":0.58},{"t":"06/25 23:05","v":0.6},
{"t":"06/25 04:45","v":0.85},{"t":"06/25 06:30","v":0.9},{"t":"06/25 08:30","v":0.85},{"t":"06/25 10:10","v":0.95},{"t":"06/25 11:50","v":0.8},{"t":"06/25 13:30","v":0.9},{"t":"06/25 15:40","v":0.85},{"t":"06/25 17:40","v":0.8},{"t":"06/25 19:20","v":0.95},{"t":"06/25 21:10","v":0.8},{"t":"06/25 22:20","v":0.85},
{"t":"06/25 04:37","v":1.84},{"t":"06/25 02:59","v":1.17},{"t":"06/25 03:58","v":0.96},{"t":"06/25 04:13","v":0.8},{"t":"06/25 06:12","v":1.39},{"t":"06/25 07:26","v":1.25},{"t":"06/25 07:42","v":1.25},{"t":"06/25 05:28","v":1.12},{"t":"06/25 05:48","v":0.96},{"t":"06/25 06:42","v":1.01},{"t":"06/25 08:56","v":1.72},{"t":"06/25 09:11","v":1.5},{"t":"06/25 10:55","v":1.72},{"t":"06/25 12:14","v":1.68},{"t":"06/25 13:41","v":1.14},{"t":"06/25 16:40","v":1.17},{"t":"06/25 18:21","v":1.34},{"t":"06/25 21:23","v":1.17},{"t":"06/25 22:38","v":1.12},{"t":"06/25 23:13","v":1.14},{"t":"06/25 03:40","v":0.7},{"t":"06/25 05:00","v":0.75},{"t":"06/25 07:00","v":0.8},{"t":"06/25 08:10","v":0.65},{"t":"06/25 09:50","v":0.9},{"t":"06/25 10:40","v":0.7},{"t":"06/25 11:30","v":0.85},{"t":"06/25 13:00","v":0.75},{"t":"06/25 14:20","v":0.9},{"t":"06/25 15:10","v":0.65},{"t":"06/25 16:00","v":0.8},{"t":"06/25 17:20","v":0.95},{"t":"06/25 18:50","v":0.7},{"t":"06/25 19:40","v":0.85},{"t":"06/25 20:40","v":0.75},{"t":"06/25 21:50","v":0.9},{"t":"06/25 22:50","v":0.7},{"t":"06/25 23:40","v":0.8},
{"t":"06/25 03:57","v":3.4},{"t":"06/25 07:02","v":3.37},{"t":"06/25 08:41","v":3.53},{"t":"06/25 09:22","v":3.44},{"t":"06/25 10:21","v":2.01},{"t":"06/25 10:30","v":2.2},{"t":"06/25 11:24","v":4.31},{"t":"06/25 12:18","v":1.94},{"t":"06/25 12:36","v":2.33},{"t":"06/25 12:40","v":1.59},{"t":"06/25 12:04","v":1.43},{"t":"06/25 12:18","v":1.49},{"t":"06/25 14:00","v":4.57},{"t":"06/25 15:08","v":1.88},{"t":"06/25 16:55","v":1.91},{"t":"06/25 17:01","v":2.92},{"t":"06/25 17:40","v":4.21},{"t":"06/25 18:07","v":2.24},{"t":"06/25 18:52","v":3.66},{"t":"06/25 19:05","v":3.86},{"t":"06/25 19:05","v":4.28},{"t":"06/25 19:07","v":4.05},{"t":"06/25 19:10","v":1.85},{"t":"06/25 19:36","v":3.21},{"t":"06/25 19:52","v":3.14},{"t":"06/25 21:41","v":2.33},{"t":"06/25 22:26","v":2.63},
{"t":"06/25 10:03","v":7.68},{"t":"06/25 06:47","v":6.39},{"t":"06/25 06:50","v":5.87},{"t":"06/25 12:18","v":18.8},{"t":"06/25 13:56","v":5.48},{"t":"06/25 18:52","v":18.35},{"t":"06/25 18:43","v":9.01},
{"t":"06/26 00:00","v":0.06},{"t":"06/26 00:30","v":0.2},{"t":"06/26 01:00","v":0.11},{"t":"06/26 01:30","v":0.25},{"t":"06/26 02:00","v":0.05},{"t":"06/26 02:30","v":0.17},{"t":"06/26 03:00","v":0.23},{"t":"06/26 03:30","v":0.08},{"t":"06/26 04:00","v":0.19},{"t":"06/26 04:30","v":0.12},{"t":"06/26 05:00","v":0.04},{"t":"06/26 05:30","v":0.22},{"t":"06/26 06:00","v":0.1},{"t":"06/26 06:30","v":0.26},{"t":"06/26 07:00","v":0.07},{"t":"06/26 07:30","v":0.18},{"t":"06/26 08:00","v":0.13},{"t":"06/26 08:30","v":0.24},{"t":"06/26 09:00","v":0.05},{"t":"06/26 09:30","v":0.2},{"t":"06/26 10:00","v":0.11},{"t":"06/26 10:30","v":0.16},{"t":"06/26 11:00","v":0.27},{"t":"06/26 11:30","v":0.06},{"t":"06/26 12:00","v":0.21},{"t":"06/26 12:30","v":0.12},{"t":"06/26 13:00","v":0.04},{"t":"06/26 13:30","v":0.19},{"t":"06/26 14:00","v":0.25},{"t":"06/26 14:30","v":0.09},{"t":"06/26 15:00","v":0.17},{"t":"06/26 15:30","v":0.13},{"t":"06/26 16:00","v":0.05},{"t":"06/26 16:30","v":0.23},{"t":"06/26 17:00","v":0.1},{"t":"06/26 17:30","v":0.2},{"t":"06/26 18:00","v":0.14},{"t":"06/26 18:30","v":0.06},{"t":"06/26 19:00","v":0.22},{"t":"06/26 19:30","v":0.11},{"t":"06/26 20:00","v":0.18},{"t":"06/26 20:30","v":0.26},{"t":"06/26 21:00","v":0.07},{"t":"06/26 21:30","v":0.21},{"t":"06/26 22:00","v":0.12},{"t":"06/26 22:30","v":0.04},{"t":"06/26 23:00","v":0.19},{"t":"06/26 23:30","v":0.1},
{"t":"06/26 00:15","v":0.42},{"t":"06/26 01:15","v":0.5},{"t":"06/26 02:15","v":0.37},{"t":"06/26 03:15","v":0.46},{"t":"06/26 04:15","v":0.55},{"t":"06/26 05:15","v":0.4},{"t":"06/26 06:15","v":0.52},{"t":"06/26 07:15","v":0.36},{"t":"06/26 08:15","v":0.48},{"t":"06/26 09:15","v":0.43},{"t":"06/26 10:15","v":0.56},{"t":"06/26 11:15","v":0.38},{"t":"06/26 12:15","v":0.47},{"t":"06/26 13:15","v":0.53},{"t":"06/26 14:15","v":0.41},{"t":"06/26 15:15","v":0.49},{"t":"06/26 16:15","v":0.35},{"t":"06/26 17:15","v":0.54},{"t":"06/26 18:15","v":0.44},{"t":"06/26 19:15","v":0.5},{"t":"06/26 20:15","v":0.39},{"t":"06/26 21:15","v":0.57},{"t":"06/26 22:15","v":0.42},{"t":"06/26 23:15","v":0.48},
{"t":"06/26 00:45","v":0.3},{"t":"06/26 01:45","v":0.35},{"t":"06/26 02:45","v":0.29},{"t":"06/26 03:45","v":0.33},{"t":"06/26 04:45","v":0.37},{"t":"06/26 05:45","v":0.3},{"t":"06/26 06:45","v":0.34},{"t":"06/26 07:45","v":0.28},{"t":"06/26 08:45","v":0.36},{"t":"06/26 09:45","v":0.31},{"t":"06/26 10:45","v":0.33},{"t":"06/26 11:45","v":0.38},{"t":"06/26 12:45","v":0.3},{"t":"06/26 13:45","v":0.35},{"t":"06/26 14:45","v":0.29},{"t":"06/26 15:45","v":0.34},{"t":"06/26 16:45","v":0.31},{"t":"06/26 17:45","v":0.37},{"t":"06/26 18:45","v":0.3},{"t":"06/26 19:45","v":0.33},{"t":"06/26 20:45","v":0.36},{"t":"06/26 21:45","v":0.29},{"t":"06/26 22:45","v":0.34},{"t":"06/26 23:45","v":0.31},
{"t":"06/26 00:05","v":0.6},{"t":"06/26 01:05","v":0.55},{"t":"06/26 02:05","v":0.62},{"t":"06/26 03:05","v":0.58},{"t":"06/26 04:05","v":0.65},{"t":"06/26 05:05","v":0.56},{"t":"06/26 06:05","v":0.6},{"t":"06/26 07:05","v":0.54},{"t":"06/26 08:05","v":0.62},{"t":"06/26 09:05","v":0.58},{"t":"06/26 10:05","v":0.66},{"t":"06/26 11:05","v":0.55},{"t":"06/26 12:05","v":0.6},{"t":"06/26 13:05","v":0.64},{"t":"06/26 14:05","v":0.57},{"t":"06/26 15:05","v":0.62},{"t":"06/26 16:05","v":0.55},{"t":"06/26 17:05","v":0.63},{"t":"06/26 18:05","v":0.6},{"t":"06/26 19:05","v":0.56},{"t":"06/26 20:05","v":0.62},{"t":"06/26 21:05","v":0.66},{"t":"06/26 22:05","v":0.58},{"t":"06/26 23:05","v":0.6},
{"t":"06/26 00:35","v":0.95},{"t":"06/26 02:20","v":0.85},{"t":"06/26 04:00","v":0.9},{"t":"06/26 05:40","v":0.8},{"t":"06/26 07:50","v":0.9},{"t":"06/26 09:10","v":0.85},{"t":"06/26 11:00","v":0.9},{"t":"06/26 12:50","v":0.85},{"t":"06/26 14:30","v":0.95},{"t":"06/26 16:00","v":0.8},{"t":"06/26 17:20","v":0.95},{"t":"06/26 19:00","v":0.85},{"t":"06/26 20:50","v":0.9},{"t":"06/26 22:00","v":0.85},
{"t":"06/26 02:56","v":1.07},{"t":"06/26 05:48","v":1.01},{"t":"06/26 08:23","v":1.07},{"t":"06/26 09:38","v":1.58},{"t":"06/26 17:04","v":1.25},{"t":"06/26 16:49","v":1.12},{"t":"06/26 18:12","v":1.12},{"t":"06/26 22:17","v":1.17},{"t":"06/26 23:40","v":0.8},{"t":"06/26 00:20","v":0.9},{"t":"06/26 01:00","v":0.7},{"t":"06/26 01:50","v":0.85},{"t":"06/26 03:30","v":0.75},{"t":"06/26 04:20","v":0.95},{"t":"06/26 05:10","v":0.7},{"t":"06/26 06:40","v":0.85},{"t":"06/26 07:20","v":0.7},{"t":"06/26 08:50","v":0.8},{"t":"06/26 10:00","v":0.9},{"t":"06/26 10:40","v":0.65},{"t":"06/26 11:20","v":0.8},{"t":"06/26 12:20","v":0.7},{"t":"06/26 13:10","v":0.95},{"t":"06/26 14:00","v":0.75},{"t":"06/26 15:00","v":0.85},{"t":"06/26 15:40","v":0.7},{"t":"06/26 16:20","v":0.9},{"t":"06/26 17:40","v":0.8},{"t":"06/26 18:40","v":0.95},{"t":"06/26 19:20","v":0.7},{"t":"06/26 20:10","v":0.85},{"t":"06/26 21:00","v":0.75},{"t":"06/26 21:20","v":1.0},{"t":"06/26 22:40","v":0.8},{"t":"06/26 23:20","v":0.9},
{"t":"06/26 00:41","v":2.82},{"t":"06/26 00:50","v":2.72},{"t":"06/26 00:55","v":1.88},{"t":"06/26 00:46","v":1.3},{"t":"06/26 01:39","v":2.14},{"t":"06/26 03:02","v":1.04},{"t":"06/26 03:49","v":1.36},{"t":"06/26 04:47","v":2.85},{"t":"06/26 05:36","v":2.07},{"t":"06/26 06:16","v":1.36},{"t":"06/26 06:53","v":1.62},{"t":"06/26 07:01","v":1.26},{"t":"06/26 07:32","v":2.17},{"t":"06/26 08:57","v":4.5},{"t":"06/26 09:38","v":2.14},{"t":"06/26 11:52","v":1.3},{"t":"06/26 13:35","v":1.3},{"t":"06/26 14:15","v":1.78},{"t":"06/26 14:51","v":2.04},{"t":"06/26 14:55","v":1.2},{"t":"06/26 17:05","v":1.62},{"t":"06/26 18:43","v":1.52},{"t":"06/26 18:38","v":1.43},{"t":"06/26 18:52","v":1.75},{"t":"06/26 19:28","v":2.92},{"t":"06/26 19:58","v":2.82},{"t":"06/26 20:25","v":2.63},{"t":"06/26 21:45","v":1.55},{"t":"06/26 21:36","v":1.39},{"t":"06/26 22:03","v":1.2},{"t":"06/26 23:30","v":1.75},
{"t":"06/26 00:41","v":8.85},{"t":"06/26 00:50","v":6.52},{"t":"06/26 00:41","v":5.54},{"t":"06/26 00:45","v":5.19},{"t":"06/26 05:54","v":12.58},{"t":"06/26 06:30","v":15.82},{"t":"06/26 06:56","v":7.49},{"t":"06/26 06:58","v":7.07},{"t":"06/26 12:46","v":6.9},{"t":"06/26 18:52","v":8.23},
{"t":"06/27 00:00","v":0.05},{"t":"06/27 00:30","v":0.19},{"t":"06/27 01:00","v":0.1},{"t":"06/27 01:30","v":0.24},{"t":"06/27 02:00","v":0.07},{"t":"06/27 02:30","v":0.16},{"t":"06/27 03:00","v":0.12},{"t":"06/27 03:30","v":0.22},{"t":"06/27 04:00","v":0.06},
{"t":"06/27 00:15","v":0.44},{"t":"06/27 01:15","v":0.5},{"t":"06/27 02:15","v":0.38},{"t":"06/27 03:15","v":0.47},{"t":"06/27 04:05","v":0.4},
{"t":"06/27 00:45","v":0.33},{"t":"06/27 01:45","v":0.29},{"t":"06/27 02:45","v":0.36},{"t":"06/27 03:45","v":0.31},
{"t":"06/27 00:05","v":0.58},{"t":"06/27 01:05","v":0.62},{"t":"06/27 02:05","v":0.55},{"t":"06/27 03:05","v":0.6},{"t":"06/27 01:20","v":0.85},{"t":"06/27 02:40","v":0.8},
{"t":"06/27 00:00","v":0.96},{"t":"06/27 02:10","v":0.8},{"t":"06/27 02:00","v":0.64},{"t":"06/27 03:30","v":0.91},{"t":"06/27 03:35","v":0.7},{"t":"06/27 03:50","v":0.54},{"t":"06/27 04:10","v":0.94},{"t":"06/27 04:15","v":0.74},
{"t":"06/27 00:33","v":3.83},{"t":"06/27 00:40","v":1.3},{"t":"06/27 00:52","v":1.17},{"t":"06/27 03:49","v":1.62},{"t":"06/27 04:15","v":2.3},{"t":"06/27 04:20","v":1.17},
{"t":"06/27 02:20","v":6.58},{"t":"06/27 04:20","v":10.53}
 ]},
  "mark": {"type": "circle", "size": 50, "color": "#73bf69", "opacity": 1},
  "encoding": {
   "x": {"field": "t", "type": "temporal",
     "scale": {"type": "utc", "domain": [{"year": 1900, "month": 6, "date": 20, "hours": 4, "minutes": 33, "utc": true}, {"year": 1900, "month": 6, "date": 27, "hours": 4, "minutes": 25, "utc": true}]},
     "axis": {"values": [{"year": 1900, "month": 6, "date": 21, "utc": true}, {"year": 1900, "month": 6, "date": 22, "utc": true}, {"year": 1900, "month": 6, "date": 23, "utc": true}, {"year": 1900, "month": 6, "date": 24, "utc": true}, {"year": 1900, "month": 6, "date": 25, "utc": true}, {"year": 1900, "month": 6, "date": 26, "utc": true}, {"year": 1900, "month": 6, "date": 27, "utc": true}], "format": "%m/%d %H:%M", "labelPadding": 10, "labelOverlap": false, "labelBound": false}},
   "y": {"field": "v", "type": "quantitative"}}},
 {"data": {"format": {"parse": {"t": "utc:'%m/%d %H:%M'"}}, "values": [{"t":"06/22 13:50","v":0},{"t":"06/25 00:45","v":0},{"t":"06/26 03:52","v":0},{"t":"06/26 23:13","v":0}]},
  "mark": {"type": "circle", "size": 40, "color": "#fade2a", "opacity": 1},
  "encoding": {"x": {"field": "t", "type": "temporal"}, "y": {"field": "v", "type": "quantitative"}}}
]
}
